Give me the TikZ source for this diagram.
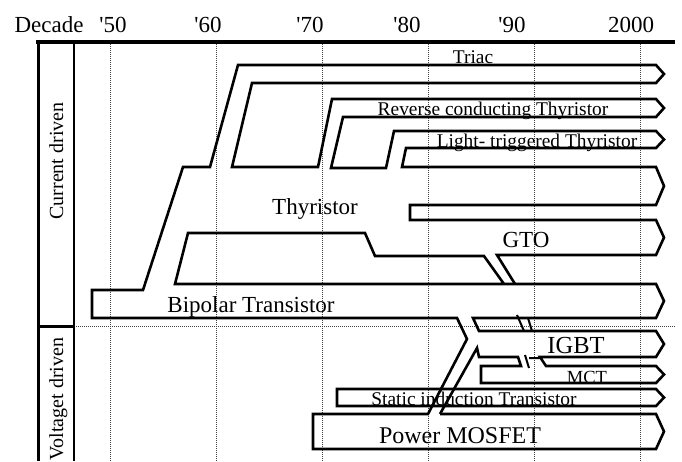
\documentclass[tikz,border=0pt]{standalone}
\usepackage{fontspec}
\setmainfont{Liberation Serif}
\tikzset{>=latex}
\tikzset{
  bar/.style={line width=2.6pt, line join=miter},
  gridline/.style={line width=0.8pt, black!75, dash pattern=on 1pt off 1pt},
  big/.style={font=\fontsize{23}{24}\selectfont, inner sep=0pt},
  small/.style={font=\fontsize{19.4}{20}\selectfont, inner sep=0pt},
  side/.style={font=\fontsize{20}{20}\selectfont, inner sep=0pt, rotate=90, anchor=base},
}

\begin{document}
\begin{tikzpicture}[x=1pt, y=-1pt]
  \useasboundingbox (0,0) rectangle (682,461);
  % decades
  \foreach \x in {110,216,322,428,534,640}
    \draw[gridline] (\x,44) -- (\x,461);
  \draw[gridline] (74,326) -- (675,326);
  \draw[line width=4.5pt] (36,42) -- (675,42);
  \draw[line width=3pt] (38,42) -- (38,461);
  \draw[line width=2.5pt] (74,42) -- (74,461);
  \draw[line width=3pt] (38,326) -- (74,326);
  \node[big, anchor=base] (decade) at (49,32) {Decade};
  \foreach \x/\nm/\yr in {113/d50/\textquotesingle50, 208/d60/\textquotesingle60,
      310/d70/\textquotesingle70, 407/d80/\textquotesingle80,
      512/d90/\textquotesingle90, 631/d00/2000}
    \node[big, anchor=base] (\nm) at (\x,32) {\yr};
  \node[side] (current) at (63,161) {Current driven};
  \node[side] (voltage) at (63,399) {Voltaget driven};

  % static induction transistor
  \draw[bar] (337,389) -- (656,389) -- (664,397.5) -- (656,406) -- (337,406) -- cycle;
  % thyristor family, bipolar and mosfet
  \draw[bar] (440,414) -- (656,414) -- (664,431.5) -- (656,449) -- (313,449)
    -- (313,414) -- (428,414) -- (467,339) -- (457,318) -- (92,318) -- (92,290)
    -- (143,290) -- (183,167) -- (210,167) -- (238,65) -- (656,65) -- (664,74)
    -- (656,83) -- (252,83) -- (232,167) -- (318,167) -- (332,99) -- (656,99)
    -- (664,108) -- (656,117) -- (343,117) -- (331,168) -- (386,168) -- (394,131)
    -- (656,131) -- (664,139.5) -- (656,148) -- (406,148) -- (402,167) -- (656,167)
    -- (664,186) -- (656,205) -- (410,205) -- (410,220) -- (656,220) -- (664,237.5)
    -- (656,255) -- (497,255) -- (515,284);
  % gto, igbt and mct
  \draw[bar] (504,284) -- (484,256) -- (375,256) -- (365,233) -- (188,233)
    -- (175,284) -- (656,284) -- (664,301) -- (656,318) -- (473,318) -- (479,331)
    -- (656,331) -- (664,344) -- (656,357) -- (540,357) -- (546,366) -- (656,366)
    -- (664,374.5) -- (656,383) -- (481,383) -- (481,366) -- (521,366) -- (518,357)
    -- (479,357) -- (477,348) -- (440,414);
  \draw[line width=2pt] (517,315) -- (524,331) (528,318) -- (532,331);
  \draw[line width=2pt] (525,355) -- (529,368) (529,358) -- (540,358);

  \node[small, anchor=base] (triac) at (473,63) {Triac};
  \node[small, anchor=base] (rct) at (493,115) {Reverse conducting Thyristor};
  \node[small, anchor=base] (ltt) at (537,147) {Light- triggered Thyristor};
  \node[big, anchor=base] (thyristor) at (315,214) {Thyristor};
  \node[big, anchor=base] (gto) at (526,247) {GTO};
  \node[big, anchor=base] (bjt) at (251,312) {Bipolar Transistor};
  \node[big, anchor=base, font=\fontsize{24.5}{25}\selectfont] (igbt) at (576,353) {IGBT};
  \node[small, anchor=base, font=\fontsize{18.5}{19}\selectfont] (mct) at (587,383) {MCT};
  \node[small, anchor=base] (sit) at (474,405) {Static induction Transistor};
  \node[big, anchor=base, font=\fontsize{24}{25}\selectfont] (mosfet) at (460,443) {Power MOSFET};
\end{tikzpicture}
\end{document}
